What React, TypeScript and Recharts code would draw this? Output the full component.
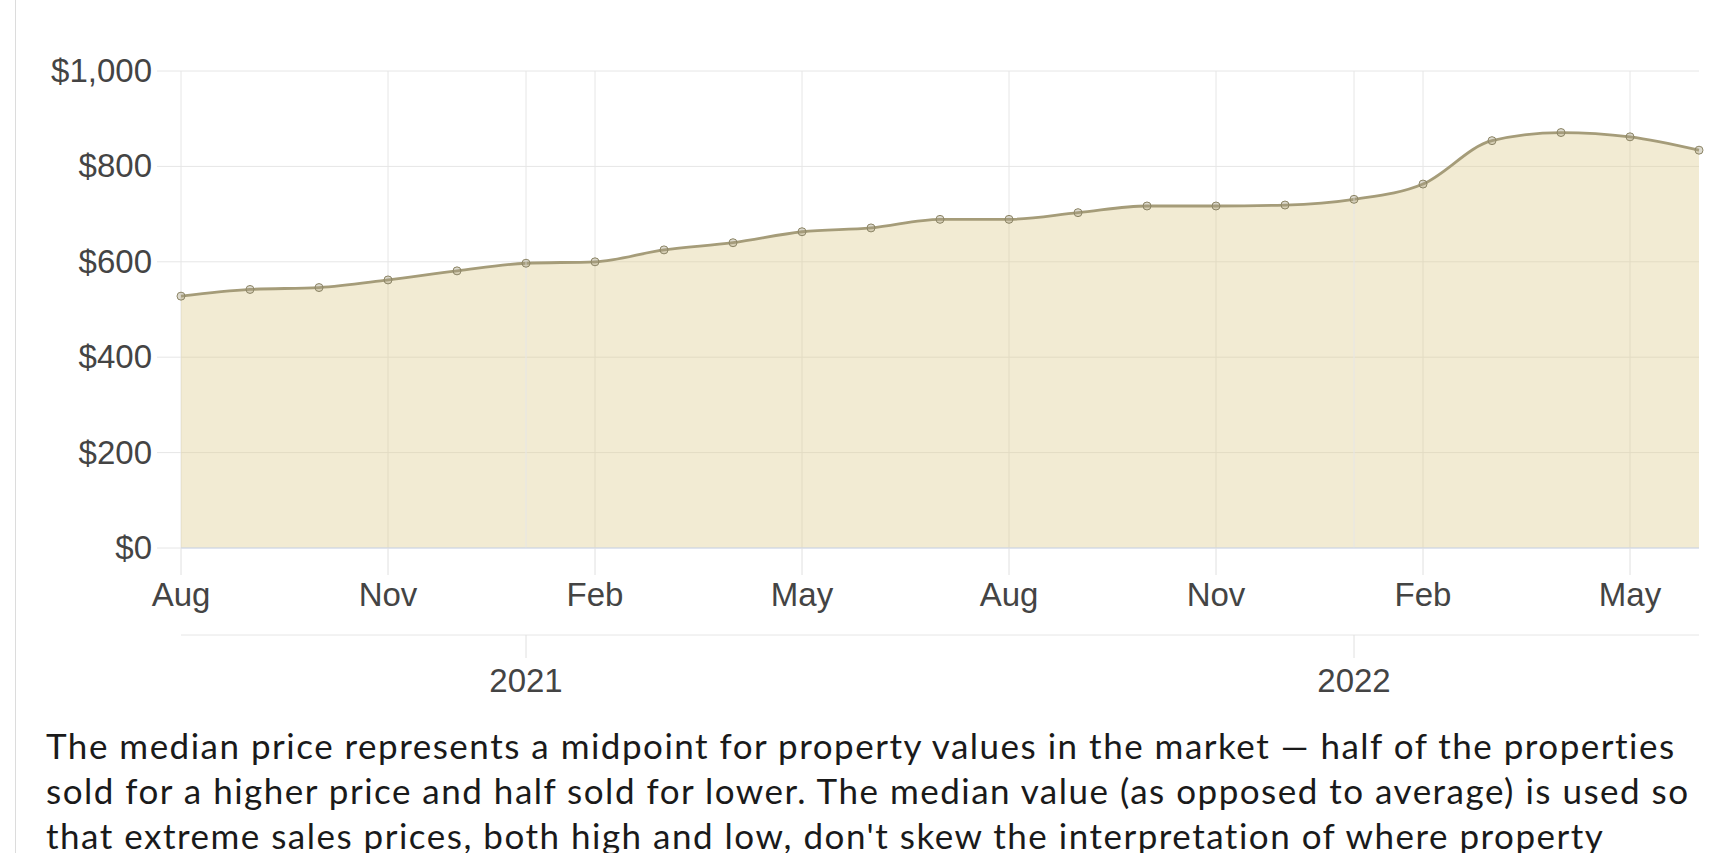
import {
  Area,
  CartesianGrid,
  ComposedChart,
  Line,
  ReferenceLine,
  XAxis,
  YAxis,
} from "recharts";

const months = [
  "Aug 2020", "Sep 2020", "Oct 2020", "Nov 2020", "Dec 2020", "Jan 2021",
  "Feb 2021", "Mar 2021", "Apr 2021", "May 2021", "Jun 2021", "Jul 2021",
  "Aug 2021", "Sep 2021", "Oct 2021", "Nov 2021", "Dec 2021", "Jan 2022",
  "Feb 2022", "Mar 2022", "Apr 2022", "May 2022", "Jun 2022",
];

const medianPrice = [
  528, 542, 546, 562, 581, 597, 600, 625, 640, 663, 671, 689,
  689, 703, 717, 717, 719, 731, 763, 854, 871, 862, 834,
];

const monthTicks = [0, 3, 6, 9, 12, 15, 18, 21];
const yearTicks = [5, 17];
const priceTicks = [0, 200, 400, 600, 800, 1000];

const rows = months.map((m, i) => ({ i, month: m, price: medianPrice[i] }));

const AXIS_FONT = "'Liberation Sans', Arial, Helvetica, sans-serif";
const LABEL = "#444";

function MonthTick(props: any) {
  const { x, y, payload } = props;
  return (
    <text x={x} y={y + 31} textAnchor="middle" fill={LABEL} fontSize={33} fontFamily={AXIS_FONT}>
      {months[payload.value].slice(0, 3)}
    </text>
  );
}

function YearTick(props: any) {
  const { x, y, payload } = props;
  return (
    <text x={x} y={y + 34} textAnchor="middle" fill={LABEL} fontSize={33} fontFamily={AXIS_FONT}>
      {months[payload.value].slice(4)}
    </text>
  );
}

function PriceTick(props: any) {
  const { x, y, payload } = props;
  return (
    <text x={x} y={y + 11} textAnchor="end" fill={LABEL} fontSize={33} fontFamily={AXIS_FONT}>
      {"$" + payload.value.toLocaleString("en-US")}
    </text>
  );
}

export default function App() {
  return (
    <div
      style={{
        position: "absolute",
        left: 0,
        top: 0,
        width: 1711,
        height: 853,
        overflow: "hidden",
        background: "#fff",
      }}
    >
      <div
        style={{
          position: "absolute",
          left: 15,
          top: 0,
          width: 1,
          height: 853,
          background: "#dcdcdc",
        }}
      />
      <div style={{ position: "absolute", left: 0, top: 0 }}>
        <ComposedChart
          width={1711}
          height={715}
          data={rows}
          margin={{ top: 71, right: 12, left: 0, bottom: 0 }}
        >
          <CartesianGrid stroke="#e6e6e6" xAxisId="m" syncWithTicks />
          {yearTicks.map((t) => (
            <ReferenceLine key={t} x={t} xAxisId="m" stroke="#e6e6e6" />
          ))}
          <XAxis
            xAxisId="m"
            dataKey="i"
            type="number"
            domain={[0, 22]}
            ticks={monthTicks}
            interval={0}
            height={87}
            tickSize={27}
            tickMargin={0}
            axisLine={{ stroke: "#ccd6eb" }}
            tickLine={{ stroke: "#e0e0e0" }}
            tick={<MonthTick />}
          />
          <XAxis
            xAxisId="y"
            dataKey="i"
            type="number"
            domain={[0, 22]}
            ticks={yearTicks}
            interval={0}
            height={80}
            tickSize={23}
            tickMargin={0}
            axisLine={{ stroke: "#e6e6e6" }}
            tickLine={{ stroke: "#e0e0e0" }}
            tick={<YearTick />}
          />
          <YAxis
            width={181}
            domain={[0, 1000]}
            ticks={priceTicks}
            interval={0}
            axisLine={false}
            tickLine={{ stroke: "#e6e6e6" }}
            tickSize={24}
            tickMargin={5}
            tick={<PriceTick />}
          />
          <Area
            xAxisId="m"
            type="monotone"
            dataKey="price"
            stroke="#a59c79"
            strokeWidth={2.8}
            fill="#dccb8c"
            fillOpacity={0.38}
            dot={{ r: 4, fill: "#a59e80", stroke: "#8c8566", strokeWidth: 1 }}
            activeDot={false}
            isAnimationActive={false}
          />
          <Line
            xAxisId="y"
            dataKey="price"
            stroke="none"
            dot={false}
            activeDot={false}
            legendType="none"
            isAnimationActive={false}
          />
        </ComposedChart>
      </div>
      <div
        style={{
          position: "absolute",
          left: 46,
          top: 723,
          fontFamily: "Lato, 'Noto Sans', sans-serif",
          fontSize: 35,
          letterSpacing: "1.5px",
          lineHeight: "45px",
          color: "#1a1a1a",
          whiteSpace: "nowrap",
        }}
      >
        <div>The median price represents a midpoint for property values in the market — half of the properties</div>
        <div>sold for a higher price and half sold for lower. The median value (as opposed to average) is used so</div>
        <div>that extreme sales prices, both high and low, don't skew the interpretation of where property</div>
      </div>
    </div>
  );
}
